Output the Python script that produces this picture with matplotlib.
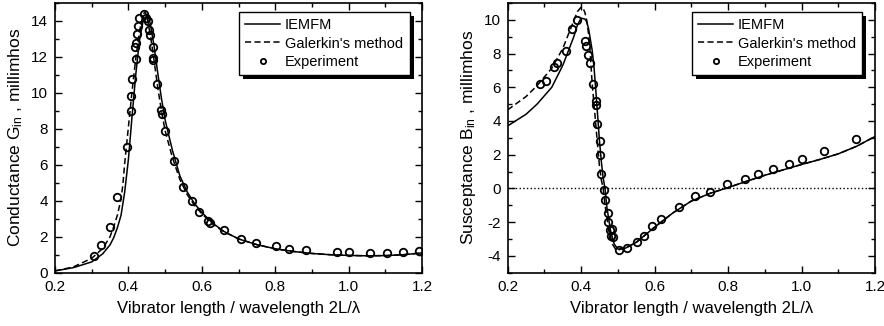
import matplotlib
matplotlib.use("Agg")
import matplotlib.pyplot as plt
from matplotlib.patches import Rectangle
from matplotlib.ticker import MultipleLocator

plt.rcParams["font.family"] = ["Liberation Sans", "DejaVu Sans"]
plt.rcParams["mathtext.fontset"] = "custom"
plt.rcParams["mathtext.rm"] = "Liberation Sans"
plt.rcParams["mathtext.it"] = "Liberation Sans:italic"
plt.rcParams["axes.unicode_minus"] = False

# ---- conductance panel ----
g_iemfm_x = [0.20, 0.25, 0.30, 0.33, 0.35, 0.36, 0.37, 0.38, 0.39, 0.40, 0.41, 0.42,
             0.43, 0.44, 0.45, 0.455, 0.46, 0.47, 0.48, 0.49, 0.50, 0.52, 0.54, 0.56,
             0.58, 0.60, 0.63, 0.66, 0.70, 0.75, 0.80, 0.85, 0.90, 0.95, 1.00, 1.05,
             1.10, 1.15, 1.20]
g_iemfm_y = [0.10, 0.28, 0.60, 1.05, 1.55, 1.95, 2.50, 3.20, 4.50, 6.30, 8.70, 11.0,
             12.9, 14.0, 14.3, 14.2, 13.8, 12.6, 11.1, 9.70, 8.50, 6.80, 5.40, 4.50,
             3.85, 3.35, 2.75, 2.30, 1.88, 1.56, 1.33, 1.18, 1.07, 1.00, 0.96, 0.94,
             0.95, 1.00, 1.10]

g_galerkin_x = [0.20, 0.25, 0.30, 0.33, 0.35, 0.36, 0.37, 0.38, 0.385, 0.39, 0.40, 0.41,
                0.42, 0.43, 0.44, 0.445, 0.45, 0.46, 0.47, 0.48, 0.49, 0.50, 0.52, 0.54,
                0.56, 0.58, 0.60, 0.63, 0.66, 0.70, 0.75, 0.80, 0.85, 0.90, 0.95, 1.00,
                1.05, 1.10, 1.15, 1.20]
g_galerkin_y = [0.10, 0.32, 0.80, 1.35, 2.00, 2.55, 3.20, 4.10, 4.90, 6.10, 8.10, 10.1,
                11.9, 13.4, 14.35, 14.5, 14.3, 13.2, 11.8, 10.3, 9.00, 7.90, 6.40, 5.20,
                4.35, 3.75, 3.28, 2.70, 2.28, 1.88, 1.56, 1.33, 1.18, 1.07, 1.00, 0.96,
                0.94, 0.95, 1.00, 1.10]

g_exp_x = [0.306, 0.326, 0.350, 0.370, 0.395, 0.407, 0.406, 0.411, 0.420, 0.418, 0.422,
           0.424, 0.425, 0.429, 0.442, 0.449, 0.454, 0.457, 0.458, 0.466, 0.467, 0.466,
           0.477, 0.490, 0.492, 0.501, 0.524, 0.549, 0.574, 0.593, 0.617, 0.622, 0.660,
           0.708, 0.749, 0.801, 0.837, 0.884, 0.968, 1.001, 1.059, 1.105, 1.147, 1.191]
g_exp_y = [0.94, 1.52, 2.56, 4.19, 7.00, 8.98, 9.80, 10.80, 11.91, 12.56, 12.78,
           13.26, 13.74, 14.19, 14.37, 14.19, 14.00, 13.48, 13.20, 12.56, 11.96, 11.85,
           10.52, 9.04, 8.85, 7.89, 6.22, 4.74, 3.96, 3.37, 2.89, 2.74, 2.37,
           1.87, 1.67, 1.48, 1.33, 1.28, 1.15, 1.13, 1.11, 1.09, 1.15, 1.22]

# ---- susceptance panel ----
b_iemfm_x = [0.20, 0.25, 0.28, 0.32, 0.35, 0.38, 0.39, 0.40, 0.41, 0.415, 0.42, 0.43,
             0.435, 0.44, 0.445, 0.45, 0.455, 0.46, 0.465, 0.47, 0.48, 0.49, 0.50, 0.52,
             0.55, 0.60, 0.65, 0.70, 0.75, 0.80, 0.85, 0.90, 0.95, 1.00, 1.05, 1.10,
             1.15, 1.20]
b_iemfm_y = [3.71, 4.40, 5.00, 6.00, 7.30, 9.00, 9.70, 10.10, 10.05, 9.90, 9.50, 8.20,
             7.20, 5.80, 4.30, 2.80, 1.60, 0.60, 0.00, -1.10, -2.50, -3.30, -3.60, -3.55,
             -3.20, -2.30, -1.45, -0.75, -0.30, 0.05, 0.42, 0.78, 1.10, 1.42, 1.72, 2.05,
             2.50, 3.08]

b_galerkin_x = [0.20, 0.25, 0.28, 0.32, 0.35, 0.37, 0.38, 0.39, 0.40, 0.405, 0.41, 0.415,
                0.42, 0.424, 0.43, 0.438, 0.445, 0.45, 0.455, 0.46, 0.465, 0.475, 0.485,
                0.495, 0.50, 0.52, 0.55, 0.60, 0.65, 0.70, 0.75, 0.80, 0.85, 0.90, 0.95,
                1.00, 1.05, 1.10, 1.15, 1.20]
b_galerkin_y = [4.66, 5.45, 6.10, 7.13, 8.30, 9.40, 9.95, 10.50, 10.75, 10.70, 10.45, 10.00,
                9.20, 8.22, 6.24, 4.27, 2.49, 1.30, 0.50, 0.00, -1.00, -2.40, -3.30,
                -3.65, -3.65, -3.55, -3.20, -2.30, -1.45, -0.75, -0.30, 0.05, 0.42, 0.78, 1.10,
                1.42, 1.72, 2.05, 2.50, 3.08]

b_exp_x = [0.288, 0.304, 0.327, 0.335, 0.359, 0.375, 0.390, 0.410, 0.412, 0.418, 0.423,
           0.431, 0.440, 0.440, 0.442, 0.450, 0.452, 0.455, 0.461, 0.464, 0.472, 0.474,
           0.479, 0.485, 0.481, 0.487, 0.502, 0.525, 0.553, 0.570, 0.593, 0.617, 0.666,
           0.711, 0.750, 0.798, 0.845, 0.882, 0.921, 0.966, 1.000, 1.062, 1.149]
b_exp_y = [6.20, 6.40, 7.19, 7.47, 8.18, 9.45, 10.00, 8.77, 8.42, 7.90, 7.43,
           6.20, 5.21, 4.94, 3.83, 2.80, 1.97, 0.86, -0.12, -0.68, -1.47, -1.98,
           -2.46, -2.42, -2.85, -2.91, -3.68, -3.55, -3.15, -2.85, -2.22, -1.79, -1.11,
           -0.44, -0.24, 0.29, 0.57, 0.88, 1.16, 1.46, 1.73, 2.23, 2.94]

xlabel = "Vibrator length / wavelength 2L/\u03bb"
labels = ["IEMFM", "Galerkin's method", "Experiment"]

fig = plt.figure(figsize=(8.84, 3.26), dpi=100)
ax1 = fig.add_axes([0.0622, 0.1635, 0.4152, 0.8273])
ax2 = fig.add_axes([0.5743, 0.1635, 0.4155, 0.8273])


def draw_panel(ax, xs, ys, xg, yg, xe, ye):
    ax.plot(xs, ys, color="k", lw=1.1, label=labels[0])
    ln, = ax.plot(xg, yg, color="k", lw=1.1, label=labels[1])
    ln.set_dashes([4, 2.2])
    ax.plot(xe, ye, ls="none", marker="o", ms=5.4, mfc="none", mec="k",
            mew=1.3, label=labels[2])
    ax.set_xlim(0.2, 1.2)
    ax.xaxis.set_major_locator(MultipleLocator(0.2))
    ax.xaxis.set_minor_locator(MultipleLocator(0.1))
    ax.yaxis.set_major_locator(MultipleLocator(2))
    ax.yaxis.set_minor_locator(MultipleLocator(1))
    ax.tick_params(which="both", direction="in", top=True, right=True,
                   labelsize=11, width=1)
    ax.tick_params(which="major", length=5)
    ax.tick_params(which="minor", length=3)
    ax.tick_params(axis="x", which="major", pad=5)
    ax.tick_params(axis="y", which="major", pad=5)
    ax.xaxis.set_major_formatter(plt.FuncFormatter(lambda v, p: "%.1f" % v))
    for s in ax.spines.values():
        s.set_linewidth(1.2)
    ax.set_xlabel(xlabel, fontsize=12, labelpad=5)
    leg = ax.legend(loc="upper right", bbox_to_anchor=(0.966, 0.967),
                    borderaxespad=0, fancybox=False, edgecolor="k",
                    framealpha=1, fontsize=10.5, handlelength=2.4,
                    handletextpad=0.3, labelspacing=0.28, borderpad=0.45,
                    markerscale=0.7)
    leg.get_frame().set_linewidth(1.0)
    return leg


leg1 = draw_panel(ax1, g_iemfm_x, g_iemfm_y, g_galerkin_x, g_galerkin_y, g_exp_x, g_exp_y)
ax1.set_ylim(0, 15)
ax1.set_ylabel("Conductance G$_{\\rm in}$ , millimhos", fontsize=12.5, labelpad=4)

leg2 = draw_panel(ax2, b_iemfm_x, b_iemfm_y, b_galerkin_x, b_galerkin_y, b_exp_x, b_exp_y)
ax2.set_ylim(-5, 11)
ax2.axhline(0, color="k", lw=1, ls=":", zorder=1)
ax2.set_ylabel("Susceptance B$_{\\rm in}$ , millimhos", fontsize=12.5, labelpad=4)

# black drop shadow behind each legend box
fig.canvas.draw()
for ax, leg in [(ax1, leg1), (ax2, leg2)]:
    bb = leg.get_frame().get_window_extent()
    shadow = Rectangle((bb.x0 + 4, bb.y0 - 4), bb.width, bb.height,
                       transform=None, facecolor="k", edgecolor="none", zorder=4.9)
    ax.add_artist(shadow)

fig.savefig("out.png", dpi=100)
